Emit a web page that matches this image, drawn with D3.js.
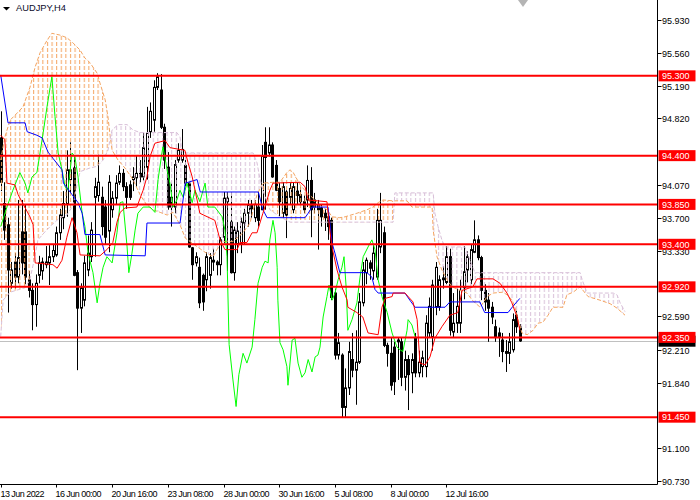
<!DOCTYPE html>
<html><head><meta charset="utf-8">
<script src="https://cdn.jsdelivr.net/npm/d3@7"></script>
<style>body{margin:0;background:#fff}svg{display:block}text{font-family:"Liberation Sans",Arial,sans-serif}</style>
</head><body>
<svg id="c" width="700" height="500"></svg>
<script>
// ---- data ----
const symbolTitle = "AUDJPY,H4";
const opens = [94.60,93.86,93.62,92.96,93.20,93.03,93.54,93.54,93.00,92.88,92.72,93.05,93.10,93.17,93.19,93.26,93.28,93.53,93.70,93.86,
94.13,94.26,93.08,92.68,92.77,93.11,93.26,93.93,93.95,93.93,93.82,93.55,93.79,93.92,94.10,94.20,94.05,94.07,94.13,94.15,
94.20,94.16,94.27,94.67,94.80,95.17,95.14,94.72,94.27,93.93,93.82,94.35,94.35,94.29,94.09,93.36,93.19,93.14,93.05,93.00,
93.05,93.20,93.20,93.17,93.48,93.88,93.65,93.08,93.40,93.41,93.64,93.75,93.84,93.70,93.82,93.79,94.55,94.43,94.52,94.29,
94.03,93.75,93.99,93.93,93.79,94.00,93.96,93.88,93.90,94.12,93.90,93.84,93.81,93.75,93.71,93.67,92.85,92.15,92.15,91.56,
91.78,92.10,91.98,92.07,92.74,93.08,93.19,93.10,93.03,93.37,93.53,92.26,92.17,92.24,92.30,92.30,91.90,92.10,91.95,92.35,
91.95,92.02,92.02,92.40,92.35,92.69,92.69,93.00,92.97,93.26,92.41,92.51,92.51,92.91,93.11,93.00,93.31,93.45,93.25,92.88,
92.77,92.69,92.47,92.40,92.32,92.19,92.17,92.21,92.60,92.47];
const highs = [94.90,94.10,93.70,93.20,93.30,93.90,93.90,93.85,93.10,92.96,93.06,93.27,93.25,93.38,93.39,93.40,93.60,93.80,94.00,94.46,
94.55,94.39,93.11,92.96,93.27,93.50,93.65,94.15,94.41,94.05,93.90,94.18,94.00,94.18,94.29,94.25,94.10,94.12,94.27,94.40,
94.35,94.66,94.95,95.00,95.25,95.33,95.32,94.76,94.44,94.09,94.35,94.54,94.70,94.35,94.10,93.37,93.31,93.25,93.07,93.31,
93.30,93.35,93.22,93.48,93.99,93.99,93.99,93.60,93.65,93.70,93.80,93.90,93.90,93.90,94.00,94.52,94.72,94.72,94.55,94.35,
94.09,94.10,94.01,94.10,94.10,94.10,94.05,93.95,94.29,94.27,93.98,93.90,93.85,93.80,93.75,93.70,92.90,92.40,92.17,92.00,
92.30,92.40,92.43,92.85,93.20,93.25,93.22,93.40,93.80,93.98,93.60,92.29,92.35,92.30,92.35,92.35,92.20,92.15,92.17,92.40,
92.20,92.20,92.60,92.80,93.00,93.20,93.05,93.15,93.38,93.35,92.85,92.90,93.00,93.38,93.32,93.40,93.67,93.50,93.27,92.95,
92.85,92.75,92.55,92.46,92.40,92.32,92.40,92.62,92.65,92.50];
const lows = [94.00,93.45,92.63,92.90,92.90,92.96,93.06,92.95,92.80,92.43,92.47,92.96,93.00,93.13,92.94,93.20,93.26,93.45,93.57,93.71,
93.98,93.04,91.98,92.40,92.70,93.04,93.20,93.26,93.88,93.50,93.40,93.31,93.70,93.85,94.07,94.00,93.80,93.90,94.00,94.05,
94.10,94.12,94.13,94.60,94.67,95.14,94.70,94.25,93.79,93.60,93.75,94.32,94.32,94.05,93.36,93.00,93.15,92.68,92.65,92.87,
92.90,93.10,93.05,93.05,93.41,93.10,93.07,92.99,93.30,93.30,93.40,93.60,93.70,93.65,93.60,93.79,93.79,94.39,94.15,94.00,
93.71,93.70,93.47,93.85,93.75,93.85,93.85,93.75,93.82,93.48,93.75,93.34,93.60,93.55,93.45,92.77,92.10,92.10,91.45,91.45,
91.70,91.90,91.59,92.05,92.70,92.95,93.00,93.00,93.00,93.30,92.24,92.02,91.75,91.70,91.87,91.80,91.75,91.53,91.72,91.90,
91.90,91.90,91.90,92.35,92.20,92.60,92.65,92.90,92.95,92.37,92.35,92.40,92.40,92.78,92.97,92.95,93.30,93.22,92.77,92.65,
92.30,92.50,92.30,92.13,92.07,91.96,92.05,92.18,92.40,92.30];
const closes = [94.10,93.56,93.11,93.11,93.03,93.25,93.19,93.03,92.88,92.72,92.96,93.19,93.20,93.20,93.26,93.33,93.53,93.73,93.86,94.24,
94.24,93.05,92.68,92.91,93.19,93.30,93.56,94.05,94.10,93.60,93.48,94.10,93.92,94.09,94.20,94.05,93.93,93.93,94.16,94.20,
94.16,94.49,94.66,94.90,95.17,95.29,94.72,94.35,93.82,93.82,94.30,94.46,94.47,94.09,93.37,93.17,93.26,92.74,92.75,93.26,
93.25,93.22,93.17,93.45,93.92,93.92,93.08,93.56,93.55,93.65,93.75,93.84,93.80,93.85,93.67,94.40,94.38,94.52,94.16,94.01,
93.88,94.05,93.73,94.03,94.05,93.95,93.88,93.79,94.12,93.79,93.82,93.79,93.71,93.70,93.60,92.80,92.15,92.29,91.56,91.78,
92.19,91.98,92.07,92.75,93.11,93.22,93.13,93.30,93.67,93.67,92.26,92.17,91.81,91.85,92.32,91.90,92.10,91.93,92.10,91.95,
92.07,92.12,92.51,92.70,92.94,93.14,93.00,93.02,93.26,92.43,92.51,92.70,92.88,93.09,93.26,93.34,93.45,93.25,92.88,92.75,
92.68,92.58,92.35,92.35,92.19,92.17,92.30,92.55,92.47,92.31];

// Ichimoku lines: [bar index, price]
const tenkan = [[0,94.63],[1.2,94.58],[1.8,94.09],[4.1,94.07],[5,93.96],[8.4,93.71],[9.3,93.62],[9.9,93.19],[15,93.17],[16.2,93.13],
[17.6,93.22],[19,93.48],[20.5,93.70],[21.9,93.53],[22.8,93.28],[28.5,93.27],[30.5,93.34],[32.2,93.42],[33.4,93.65],[34.3,93.76],
[35.7,93.81],[39.1,93.82],[40.9,94.01],[42,94.16],[42.9,94.39],[44.3,94.54],[47.2,94.57],[48.6,94.49],[52.9,94.46],[53.8,94.32],
[55,94.16],[56.4,93.90],[57.2,93.75],[61.5,93.67],[63,93.45],[64.4,93.34],[67.9,93.34],[68.7,93.42],[70.7,93.42],[72.2,93.53],
[73.6,93.53],[75.3,93.75],[76.5,93.90],[77.3,94.01],[78.2,94.09],[86,94.10],[87.4,94.05],[88.3,93.90],[93.7,93.88],[94.6,93.53],
[95.2,93.36],[96.6,93.11],[98,92.92],[99.5,92.77],[99.7,92.69],[102.3,92.63],[104,92.58],[105.5,92.40],[108.4,92.38],[109.5,92.69],
[110.4,92.79],[112.4,92.81],[112.7,92.85],[116.1,92.85],[118.4,92.75],[119.6,92.55],[120.4,92.06],[121.9,92.04],[123.3,92.13],[124.7,92.34],
[126.7,92.47],[129,92.60],[131.3,92.63],[132.5,92.88],[135.6,92.92],[136.8,93.01],[141.4,93.01],[143.4,92.96],[145.4,92.85],[146.8,92.74],
[148.3,92.58],[149.1,92.43]];
const kijun = [[0,95.31],[2.1,94.77],[7,94.77],[7.6,94.67],[10.4,94.63],[11.9,94.60],[13.6,94.44],[15,94.37],[17.6,94.24],[18,94.09],
[20.5,93.96],[22.2,93.87],[23.4,93.75],[24.2,93.51],[28.5,93.51],[30,93.28],[41.5,93.27],[42,93.64],[51.5,93.64],[53,94.09],
[56.4,94.13],[57.3,93.99],[74,93.99],[75.3,93.79],[76.5,93.70],[87.4,93.70],[88.3,93.75],[89.4,93.82],[94,93.82],[95.2,93.41],
[96,93.30],[97.4,93.08],[105.2,93.08],[106.6,93.03],[107.5,92.89],[108.4,92.85],[116.1,92.85],[117.5,92.77],[119,92.69],[127.6,92.69],
[129,92.75],[137.6,92.75],[139,92.63],[145.7,92.63],[147.1,92.70],[149.1,92.79]];
const chikou = [[0,93.60],[1.8,93.82],[3.5,94.01],[5.5,94.21],[7,94.09],[7.8,93.98],[9,94.16],[10.4,94.21],[11.3,94.43],[12.2,94.66],
[13.3,94.95],[14.2,95.17],[14.7,95.29],[15.6,94.84],[16.5,94.43],[17.6,94.24],[18.5,94.05],[19.3,94.01],[20.5,94.43],[21.3,94.39],
[22.2,94.16],[23.4,93.75],[24.2,93.60],[25.1,93.30],[26.5,93.08],[27.7,92.74],[28.5,92.96],[29.4,93.14],[30.5,93.26],[32,93.19],
[33.4,93.53],[34.3,93.87],[35.1,93.88],[36.3,93.37],[36.8,93.08],[37.7,93.30],[38.6,93.56],[39.4,93.75],[40.9,93.82],[42.9,93.82],
[44.3,93.76],[45.2,94.13],[46.3,94.43],[46.6,94.50],[47.8,94.24],[48.6,94.09],[49.5,93.82],[50.6,93.90],[51.5,94.01],[52.4,93.93],
[53.5,94.09],[55,93.87],[55.8,94.01],[57.2,93.88],[58.7,94.09],[59.5,93.82],[61.5,93.82],[63.6,93.71],[64.4,93.56],[65,93.26],
[65.6,92.27],[66.7,91.87],[67.6,91.57],[68.4,91.93],[69.6,92.17],[70.7,92.06],[72.2,92.24],[73,92.55],[73.9,92.96],[75.1,93.14],
[75.9,93.21],[76.8,93.19],[77.3,93.45],[78.2,93.67],[78.8,93.53],[79.4,93.14],[79.6,92.77],[80.2,92.29],[81.1,92.21],[82.2,92.02],
[82.5,91.81],[83.7,92.32],[84.5,92.34],[85.4,92.06],[86.5,91.90],[87.4,91.95],[88.3,92.10],[89.4,91.96],[90.3,92.13],[91.1,92.15],
[91.7,92.24],[92.6,92.58],[93.7,92.81],[94.3,92.94],[95.2,92.77],[96,92.85],[96.9,93.00],[98,93.14],[98.6,93.26],[99.2,92.92],
[99.7,92.43],[100.9,92.55],[102.3,92.74],[103.2,93.03],[104.1,93.26],[105.5,93.37],[106.6,93.45],[107.5,93.34],[108.4,93.00],[109.5,92.81],
[111,92.63],[112.4,92.40],[113.8,92.24],[114.7,92.21],[115.5,92.19],[116.7,92.43],[117,92.55],[118.1,92.49],[119,92.36]];
const spanA = [[0,94.35],[1.2,94.61],[2.7,94.80],[4.7,94.88],[6.4,94.95],[8.4,95.17],[9.9,95.40],[11.3,95.56],[13.3,95.70],[14.7,95.78],
[17,95.76],[19,95.73],[20.8,95.67],[22.8,95.59],[24.2,95.50],[25.6,95.45],[27.7,95.33],[28.5,95.22],[30,95.03],[30.8,94.84],
[31.4,94.63],[32,94.46],[33.7,94.35],[35.7,94.26],[38,94.13],[40,93.96],[42,93.84],[43.7,93.79],[45.8,93.76],[47.8,93.73],
[49.5,93.76],[51.5,93.62],[53,93.47],[55.8,93.39],[58.7,93.31],[61,93.26],[62.1,93.34],[63.8,93.43],[66.7,93.43],[69.6,93.53],
[71.6,93.64],[73.6,93.96],[75.3,94.09],[78.2,94.10],[80.2,94.10],[82.2,94.21],[83.1,94.24],[84,94.21],[86,94.07],[88,93.98],
[90.3,93.90],[92.3,93.82],[93.7,93.79],[95.2,93.71],[97.4,93.70],[98.9,93.71],[102.3,93.75],[105.2,93.79],[106.9,93.82],[108.4,93.87],
[109.8,93.90],[112.7,93.89],[116.7,93.89],[118.1,93.82],[123.9,93.82],[124.2,93.56],[125.3,93.26],[126.7,93.11],[128.2,93.00],[129.6,92.92],
[131.9,92.88],[133.9,92.85],[135.4,92.77],[137.7,92.69],[139.7,92.81],[141.4,92.85],[144.3,92.86],[145.4,92.83],[146.9,92.77],[147.7,92.69],
[148.6,92.55],[149.7,92.40],[151.2,92.38],[152.9,92.43],[154.3,92.51],[155.7,92.52],[157.2,92.60],[158.6,92.69],[161.5,92.69],[162.6,92.83],
[164.4,92.86],[166.4,92.92],[168.7,92.81],[172.1,92.77],[175,92.73],[177,92.68],[179.3,92.60]];
const spanB = [[0,92.36],[0.7,92.77],[2.7,92.86],[7,92.91],[8.4,93.00],[9.9,93.28],[10.7,93.45],[12.7,93.54],[14.7,93.62],[17,93.70],
[19,93.73],[20.8,93.84],[21.9,94.07],[22.8,94.22],[25.6,94.26],[27.7,94.28],[29.4,94.35],[30.8,94.46],[31.4,94.58],[32,94.69],
[33.7,94.75],[36.3,94.75],[38,94.69],[40,94.66],[50.6,94.66],[51.5,94.61],[52.1,94.44],[53.5,94.43],[72.5,94.43],[73.6,94.32],
[74.5,94.13],[75.3,94.01],[77.3,93.79],[80.2,93.71],[83.1,93.65],[112.7,93.65],[113.2,93.98],[124.2,93.98],[124.7,93.75],[125.6,93.60],
[126.7,93.45],[127.6,93.37],[133.3,93.37],[134.8,93.22],[136.2,93.08],[166.4,93.08],[167,93.00],[168.4,92.85],[175.9,92.85],[177,92.83],
[177.9,92.74],[179.3,92.64]];

const levels = [95.30, 94.40, 93.85, 93.40, 92.92, 92.35, 91.45];
const bidPrice = 92.307;
// price-scale labels that are not covered by a level label
const priceTicks = [95.93, 95.56, 95.19, 94.82, 94.07, 93.70, 93.33, 92.59, 92.21, 91.84, 91.10, 90.73];
const timeTickIdx = [0, 16, 32, 48, 64, 80, 96, 112, 128];
const timeTickLabels = ["13 Jun 2022","16 Jun 00:00","20 Jun 16:00","23 Jun 08:00","28 Jun 00:00","30 Jun 16:00","5 Jul 08:00","8 Jul 00:00","12 Jul 16:00"];
const shiftMarkIdx = 150;

// ---- layout ----
const plotR = 657.5, plotB = 484.5;
const svg = d3.select('#c');
const x = d3.scaleLinear().domain([0, 1]).range([0.7, 0.7 + 3.482]);
const y = d3.scaleLinear().domain([90.73, 95.93]).range([481, 20]);
const fmt = d3.format('.3f');

const defs = svg.append('defs');
defs.append('clipPath').attr('id','plotClip').append('rect').attr('x',0).attr('y',0).attr('width',plotR).attr('height',plotB);
function hatch(id, color){
  const p = defs.append('pattern').attr('id', id).attr('patternUnits','userSpaceOnUse')
    .attr('x', 0).attr('y', 0).attr('width', 4.6).attr('height', 6);
  p.append('rect').attr('x',1).attr('y',0).attr('width',1).attr('height',4).attr('fill',color);
}
hatch('hatchA', '#F4A460');
hatch('hatchB', '#D8BFD8');

const ptsA = spanA.map(d => [x(d[0]), y(d[1])]);
const ptsB = spanB.map(d => [x(d[0]), y(d[1])]);
const path = pts => 'M' + pts.map(p => p[0].toFixed(2) + ',' + p[1].toFixed(2)).join('L');
const lastA = ptsA[ptsA.length - 1], firstA = ptsA[0];
defs.append('clipPath').attr('id','belowA').append('path')
  .attr('d', path(ptsA) + `L${lastA[0]+2},700L${firstA[0]-2},700Z`);
defs.append('clipPath').attr('id','aboveA').append('path')
  .attr('d', path(ptsA) + `L${lastA[0]+2},-200L${firstA[0]-2},-200Z`);
const cloudPoly = path(ptsA.concat(ptsB.slice().reverse())) + 'Z';

const plot = svg.append('g').attr('clip-path','url(#plotClip)');

// bid line
plot.append('line').attr('x1',0).attr('x2',plotR).attr('y1',Math.round(y(bidPrice))+0.5).attr('y2',Math.round(y(bidPrice))+0.5)
  .attr('stroke','#C0C0C0').attr('stroke-width',1);

// candles
const idx = d3.range(opens.length);
const cg = plot.append('g');
cg.selectAll('line.w').data(idx).join('line').attr('class','w')
  .attr('x1', i => Math.round(x(i)) + 0.5).attr('x2', i => Math.round(x(i)) + 0.5)
  .attr('y1', i => y(highs[i])).attr('y2', i => y(lows[i]))
  .attr('stroke','#000').attr('stroke-width',1);
cg.selectAll('rect.b').data(idx).join('rect').attr('class','b')
  .attr('x', i => Math.round(x(i)) - 0.5)
  .attr('y', i => y(Math.max(opens[i], closes[i])))
  .attr('width', 2)
  .attr('height', i => Math.max(Math.abs(y(opens[i]) - y(closes[i])), 0.6))
  .attr('fill', i => closes[i] >= opens[i] ? '#fff' : '#000')
  .attr('stroke','#000').attr('stroke-width',1);

// cloud hatch
plot.append('g').attr('clip-path','url(#belowA)').append('path').attr('d', cloudPoly).attr('fill','url(#hatchA)');
plot.append('g').attr('clip-path','url(#aboveA)').append('path').attr('d', cloudPoly).attr('fill','url(#hatchB)');

const line = d3.line().x(d => x(d[0])).y(d => y(d[1]));
plot.append('path').datum(spanA).attr('d', line).attr('fill','none').attr('stroke','#F4A460').attr('stroke-width',1).attr('stroke-dasharray','4,2');
plot.append('path').datum(spanB).attr('d', line).attr('fill','none').attr('stroke','#D8BFD8').attr('stroke-width',1).attr('stroke-dasharray','4,2');
plot.append('path').datum(chikou).attr('d', line).attr('fill','none').attr('stroke','#00FF00').attr('stroke-width',1);
plot.append('path').datum(kijun).attr('d', line).attr('fill','none').attr('stroke','#0000FF').attr('stroke-width',1);
plot.append('path').datum(tenkan).attr('d', line).attr('fill','none').attr('stroke','#FF0000').attr('stroke-width',1);

// horizontal levels
plot.selectAll('line.lvl').data(levels).join('line').attr('class','lvl')
  .attr('x1',0).attr('x2',plotR).attr('y1', d => y(d)).attr('y2', d => y(d))
  .attr('stroke','#FF0000').attr('stroke-width',2);

// shift marker
svg.append('path').attr('d', `M${x(shiftMarkIdx)-5},0L${x(shiftMarkIdx)+5},0L${x(shiftMarkIdx)},7Z`).attr('fill','#B4B4B4');

// axes
svg.append('line').attr('x1',plotR).attr('x2',plotR).attr('y1',0).attr('y2',plotB).attr('stroke','#000');
svg.append('line').attr('x1',0).attr('x2',plotR).attr('y1',plotB).attr('y2',plotB).attr('stroke','#000');

const ya = svg.append('g');
priceTicks.forEach(v => {
  const yy = Math.round(y(v)) + 0.5;
  ya.append('line').attr('x1',plotR).attr('x2',plotR + 4).attr('y1',yy).attr('y2',yy).attr('stroke','#000');
  ya.append('text').attr('x',662).attr('y',yy + 3.3).attr('font-size','9px').attr('fill','#000').text(fmt(v));
});
// bid label (mostly hidden behind the 92.350 label, as in the picture)
const by = y(bidPrice);
svg.append('rect').attr('x',plotR + 1).attr('y',by - 5.5).attr('width',37).attr('height',11).attr('fill','#000');
// level labels
levels.forEach(v => {
  const yy = y(v);
  svg.append('rect').attr('x',plotR + 1).attr('y',yy - 5.5).attr('width',37).attr('height',11).attr('fill','#FF0000');
  svg.append('text').attr('x',662).attr('y',yy + 3.3).attr('font-size','9px').attr('fill','#fff').text(fmt(v));
});

// time axis
timeTickIdx.forEach((t, k) => {
  const xx = Math.round(x(t)) + 0.5;
  svg.append('line').attr('x1',xx).attr('x2',xx).attr('y1',plotB).attr('y2',plotB + 3).attr('stroke','#000');
  svg.append('text').attr('x', xx - 1).attr('y', 497).attr('font-size','9px').attr('letter-spacing','-0.55px').attr('fill','#000').text(timeTickLabels[k]);
});

// title
svg.append('path').attr('d','M3,7L10,7L6.5,10.5Z').attr('fill','#000');
svg.append('text').attr('x',16).attr('y',11).attr('font-size','9.3px').attr('fill','#0a0a2a').text(symbolTitle);
</script>
</body></html>
